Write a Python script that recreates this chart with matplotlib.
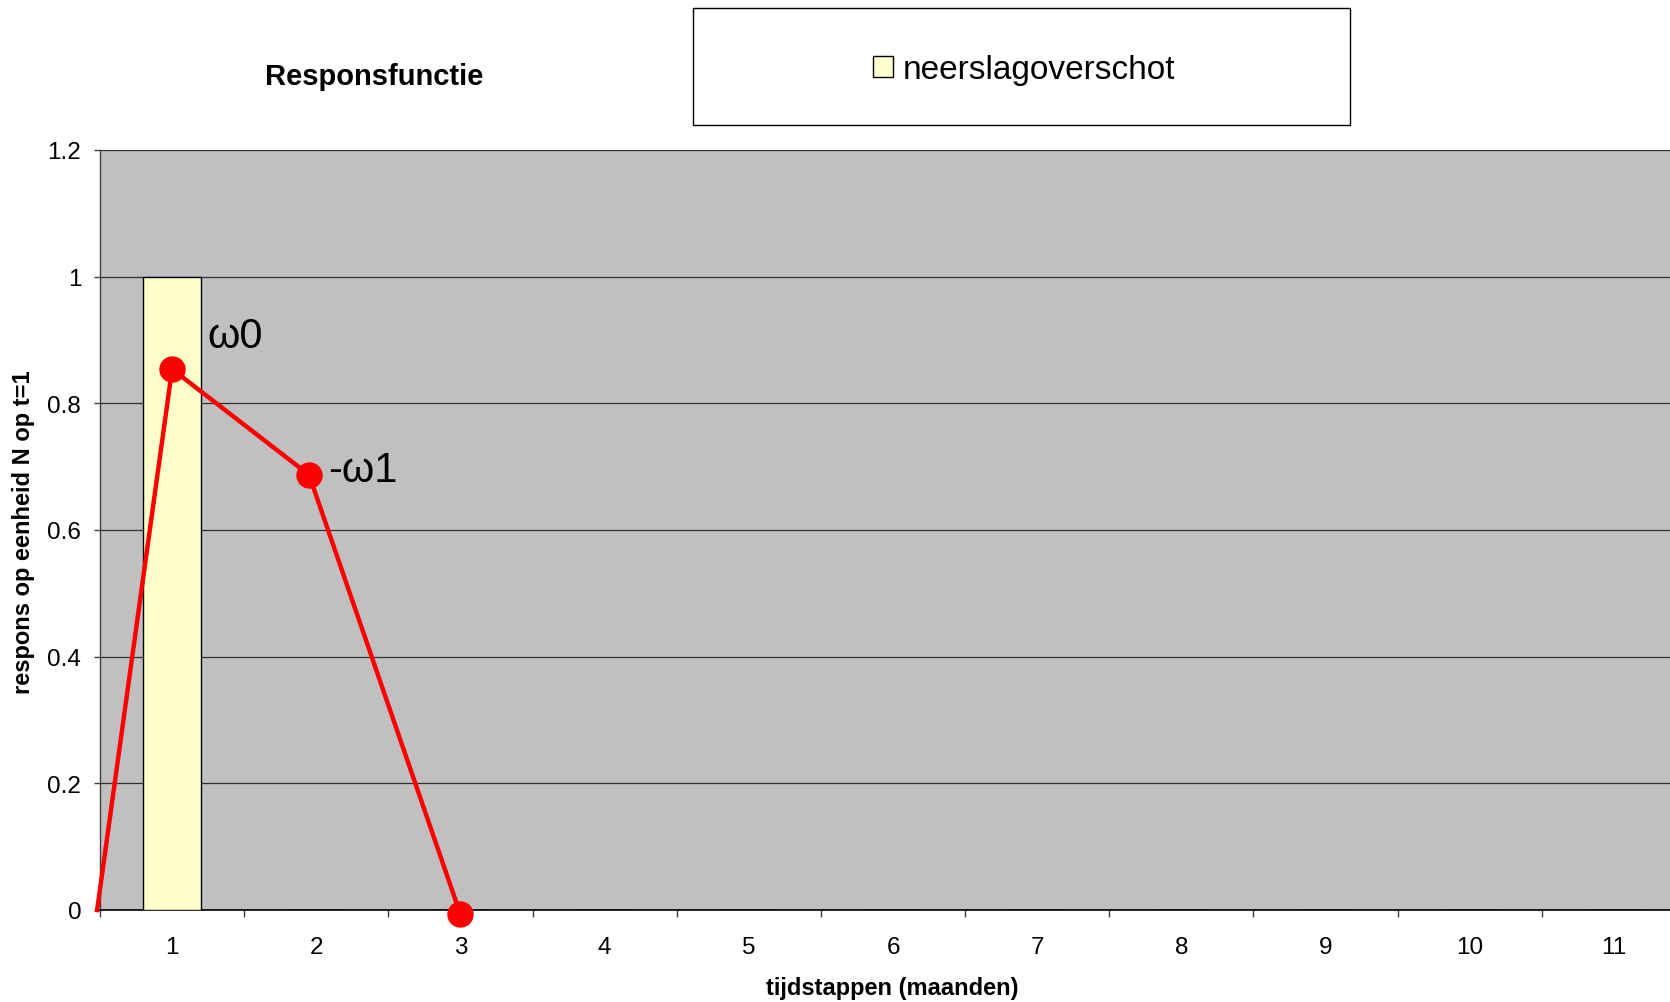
import numpy as np
import matplotlib
matplotlib.use("Agg")
import matplotlib.pyplot as plt
from matplotlib.patches import Rectangle

plt.rcParams['font.family'] = ['Liberation Sans', 'DejaVu Sans']

# time steps (months) and unit rainfall surplus at t=1
months = [1, 2, 3, 4, 5, 6, 7, 8, 9, 10, 11]
surplus = [1, 0, 0, 0, 0, 0, 0, 0, 0, 0, 0]

# response function points
resp_x = [0.48, 1.0, 1.95, 3.0]
resp_y = [0.0, 0.854, 0.687, -0.007]

yticks = [0, 0.2, 0.4, 0.6, 0.8, 1, 1.2]
ytick_labels = ["0", "0.2", "0.4", "0.6", "0.8", "1", "1.2"]

W, H = 1670, 1003
fig = plt.figure(figsize=(W / 100, H / 100), dpi=100)
ax = fig.add_axes([100 / W, 1 - 911 / H, 1586 / W, 760 / H])
ax.set_facecolor("#C0C0C0")

bars = ax.bar(months, surplus, width=0.4, color="#FFFFCC", edgecolor="black",
              linewidth=1.0, zorder=3, label="neerslagoverschot")

ax.plot(resp_x, resp_y, color="#FF0000", lw=3.2, marker="o", ms=18,
        markevery=[1, 2, 3], zorder=5, clip_on=False)

ax.text(1.247, 0.907, "ω0", fontsize=30, ha="left", va="center", zorder=6)
ax.text(2.081, 0.695, "-ω1", fontsize=30, ha="left", va="center", zorder=6)

ax.set_xlim(0.5, 11.5)
ax.set_ylim(0, 1.2)
ax.set_yticks(yticks)
ax.set_yticklabels(ytick_labels)
ax.yaxis.grid(True, color="#000000", lw=0.9, alpha=0.75)
ax.set_axisbelow(True)

ax.set_xticks(months)
ax.set_xticks(np.arange(0.5, 11.6, 1.0), minor=True)
ax.tick_params(axis="x", which="major", length=0, pad=19, labelsize=17.5)
ax.tick_params(axis="x", which="minor", length=5, width=1, color="#404040",
               direction="out")
ax.tick_params(axis="y", length=4.5, width=1, color="#404040", pad=9,
               labelsize=17.5)

for side in ["top", "right"]:
    ax.spines[side].set_visible(False)
ax.spines["left"].set_color("#404040")
ax.spines["bottom"].set_color("#000000")
ax.spines["left"].set_linewidth(1.0)
ax.spines["bottom"].set_linewidth(1.2)

fig.text(374 / W, 1 - 77 / H, "Responsfunctie", fontsize=21, fontweight="bold",
         ha="center", va="center")
fig.text(892 / W, 1 - 989 / H, "tijdstappen (maanden)", fontsize=17,
         fontweight="bold", ha="center", va="center")
fig.text(23.5 / W, 1 - 532 / H, "respons op eenheid N op t=1", fontsize=17,
         fontweight="bold", ha="center", va="center", rotation=90)

# legend box
fig.patches.append(Rectangle((693 / W, 1 - 126 / H), 657 / W, 117 / H,
                             transform=fig.transFigure, facecolor="white",
                             edgecolor="black", lw=1.0))
fig.legend(handles=[bars], labels=["neerslagoverschot"], loc="center",
           bbox_to_anchor=(1024 / W, 1 - 71 / H), frameon=False, fontsize=24,
           handlelength=0.6, handleheight=0.6, handletextpad=0.3, borderpad=0)

fig.savefig("out.png", dpi=100)
